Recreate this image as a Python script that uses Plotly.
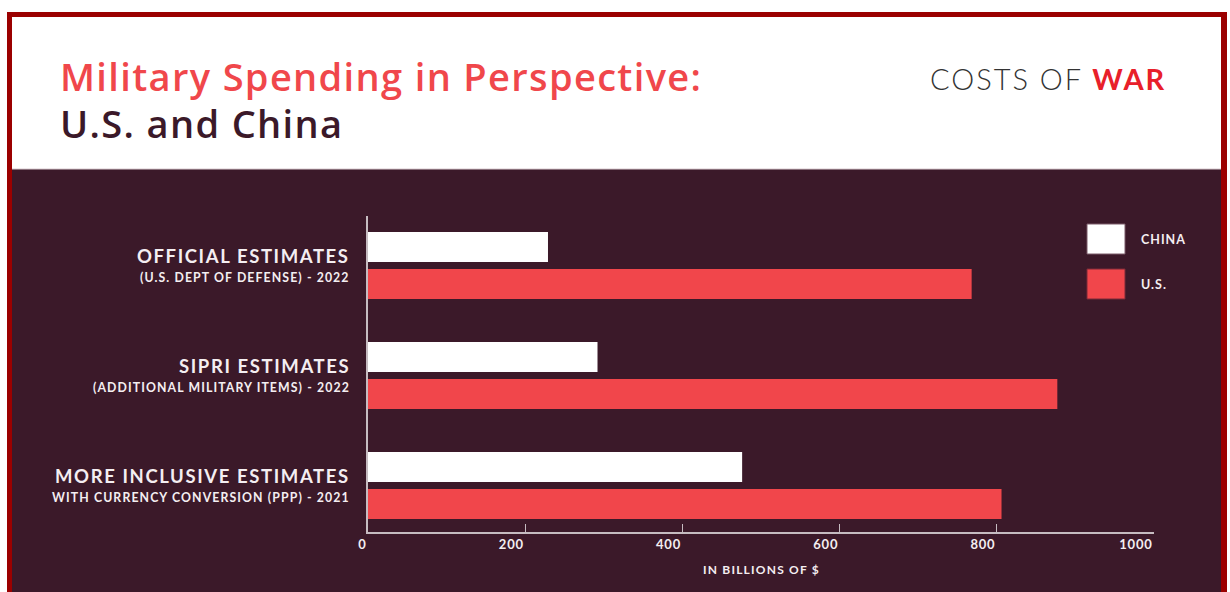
import plotly.graph_objects as go

# ---- data ----
categories = ["OFFICIAL ESTIMATES", "SIPRI ESTIMATES", "MORE INCLUSIVE ESTIMATES"]
sublabels = ["(U.S. DEPT OF DEFENSE) - 2022", "(ADDITIONAL MILITARY ITEMS) - 2022",
             "WITH CURRENCY CONVERSION (PPP) - 2021"]
china = [229, 292, 476]
us = [768, 877, 806]
series_names = ["CHINA", "U.S."]
x_ticks = [0, 200, 400, 600, 800, 1000]

# ---- style ----
W, H = 1230, 592
L, R, T, B = 368, W - 1154, 216, H - 532
PW, PH = W - L - R, H - T - B
DARK = "#3b1929"
RED = "#f1464b"
BORDER = "#9b0000"
WHITE_TXT = "#f4eef1"


def xp(px):
    return (px - L) / PW


def yp(py):
    return (H - B - py) / PH


fig = go.Figure()
fig.add_trace(go.Bar(y=categories, x=china, name=series_names[0], orientation="h",
                     marker=dict(color="#ffffff", line=dict(width=0)), hoverinfo="x"))
fig.add_trace(go.Bar(y=categories, x=us, name=series_names[1], orientation="h",
                     marker=dict(color=RED, line=dict(width=0)), hoverinfo="x"))

shapes = [
    dict(type="rect", xref="paper", yref="paper", x0=xp(7), x1=xp(1227), y0=yp(12), y1=yp(H + 5),
         fillcolor=BORDER, line=dict(width=0), layer="below"),
    dict(type="rect", xref="paper", yref="paper", x0=xp(12), x1=xp(1221), y0=yp(17), y1=yp(169),
         fillcolor="#ffffff", line=dict(width=0), layer="below"),
    dict(type="rect", xref="paper", yref="paper", x0=xp(12), x1=xp(1221), y0=yp(169), y1=yp(H + 5),
         fillcolor=DARK, line=dict(width=0), layer="below"),
    dict(type="line", xref="paper", yref="paper", x0=xp(12), x1=xp(1221), y0=yp(169), y1=yp(169),
         line=dict(color="#d9c9cf", width=1), layer="below"),
    # legend swatches
    dict(type="rect", xref="paper", yref="paper", x0=xp(1087), x1=xp(1125), y0=yp(224), y1=yp(254),
         fillcolor="#ffffff", line=dict(color="#7a5a68", width=1)),
    dict(type="rect", xref="paper", yref="paper", x0=xp(1087), x1=xp(1125), y0=yp(269), y1=yp(299),
         fillcolor=RED, line=dict(color="#7a2a38", width=1)),
]


def sp(txt, ls):
    return f"<span style='letter-spacing:{ls}px'><b>{txt}</b></span>"


def ls_text(txt, ls):
    return f"<span style='letter-spacing:{ls}px'>{txt}</span>"


annotations = [
    dict(text=ls_text("Military Spending in Perspective:", 1.35), xref="paper", yref="paper",
         x=xp(58), y=yp(76), xanchor="left", yanchor="middle", showarrow=False,
         font=dict(family="Open Sans", size=38, color="#f0474b", weight=600)),
    dict(text=ls_text("U.S. and China", 1.35), xref="paper", yref="paper",
         x=xp(58), y=yp(123), xanchor="left", yanchor="middle", showarrow=False,
         font=dict(family="Open Sans", size=38, color="#3b1929", weight=600)),
    dict(text="<span style='letter-spacing:2px'>COSTS OF <span style='font-weight:bold;color:#e8202a'>WAR</span></span>",
         xref="paper", yref="paper", x=xp(1168), y=yp(79), xanchor="right", yanchor="middle",
         showarrow=False, font=dict(family="Lato", size=29, color="#333333", weight=300)),
    dict(text=sp(series_names[0], 1), xref="paper", yref="paper",
         x=xp(1139), y=yp(239), xanchor="left", yanchor="middle", showarrow=False,
         font=dict(family="Lato", size=12.5, color=WHITE_TXT)),
    dict(text=sp(series_names[1], 1), xref="paper", yref="paper",
         x=xp(1139), y=yp(284), xanchor="left", yanchor="middle", showarrow=False,
         font=dict(family="Lato", size=12.5, color=WHITE_TXT)),
    dict(text=sp("IN BILLIONS OF $", 1.2), xref="paper", yref="paper",
         x=xp(761), y=yp(569), xanchor="center", yanchor="middle", showarrow=False,
         font=dict(family="Lato", size=12, color=WHITE_TXT)),
]
for cat, sub in zip(categories, sublabels):
    annotations.append(dict(text=sp(cat, 1.6), xref="paper", yref="y",
                            x=xp(352), y=cat, yshift=9.5, xanchor="right", yanchor="middle",
                            showarrow=False, font=dict(family="Lato", size=18.5, color=WHITE_TXT)))
    annotations.append(dict(text=sp(sub, 1.1), xref="paper", yref="y",
                            x=xp(352), y=cat, yshift=-12, xanchor="right", yanchor="middle",
                            showarrow=False, font=dict(family="Lato", size=12.3, color=WHITE_TXT)))

fig.update_layout(
    width=W, height=H,
    margin=dict(l=L, r=R, t=T, b=B, pad=0),
    paper_bgcolor="#ffffff",
    plot_bgcolor="rgba(0,0,0,0)",
    barmode="group", bargap=0.327, bargroupgap=0.189,
    showlegend=False,
    shapes=shapes, annotations=annotations,
    xaxis=dict(range=[0, 1000], tickvals=x_ticks,
               ticktext=[sp(v, 0.8) for v in x_ticks],
               ticklabelposition="outside left",
               showgrid=False, zeroline=False, showline=True, linecolor="#c6bcc1", linewidth=1.5,
               ticks="inside", ticklen=8, tickwidth=1.2, tickcolor="#c6bcc1",
               tickfont=dict(family="Lato", size=13, color=WHITE_TXT), fixedrange=True),
    yaxis=dict(categoryorder="array", categoryarray=categories, range=[2.4227, -0.45],
               showticklabels=False, showgrid=False, zeroline=False, showline=True,
               linecolor="#c6bcc1", linewidth=1.5, ticks="", fixedrange=True),
)

fig.write_html("out.html")
